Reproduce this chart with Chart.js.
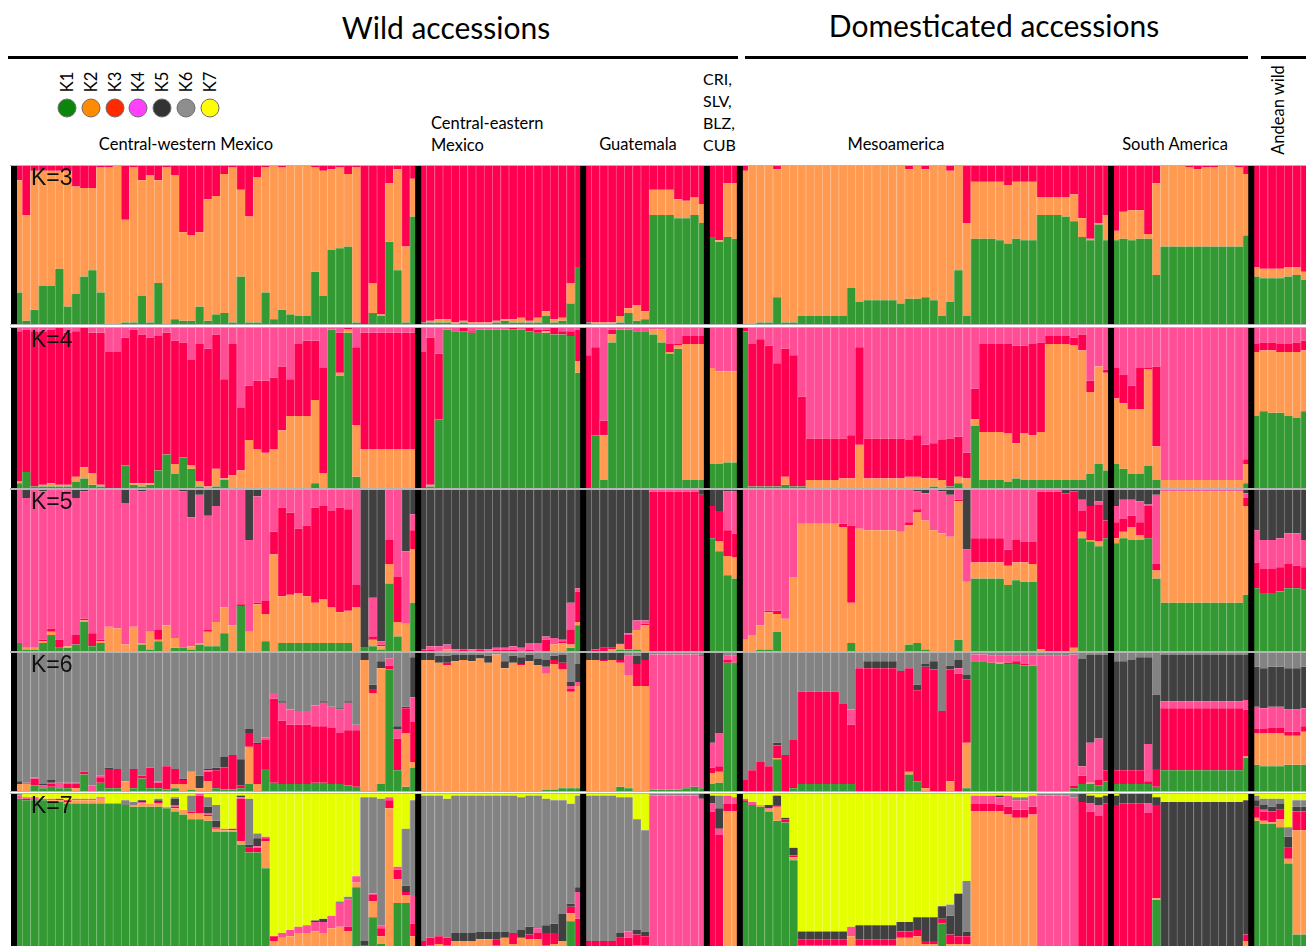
<!DOCTYPE html>
<html>
<head>
<meta charset="utf-8">
<script src="https://cdn.jsdelivr.net/npm/chart.js@4.4.0/dist/chart.umd.min.js"></script>
<style>
  body { margin: 0; width: 1306px; height: 946px; overflow: hidden; background: #fff; position: relative; font-family: Lato, 'Open Sans', sans-serif; }
  .t { position: absolute; white-space: nowrap; color: #000; line-height: 1; }
  .c { transform: translate(-50%, -50%); }
  .rot { transform: translate(-50%, -50%) rotate(-90deg); }
  .rule { position: absolute; height: 3px; background: #000; }
  .edge { position: absolute; height: 1px; left: 10px; width: 1296px; background: #b5b5b5; z-index: 2; }
  .dot { position: absolute; width: 17px; height: 17px; border-radius: 50%; border: 1px solid #6e6e6e; transform: translate(-50%, -50%); }
  .klab { position: absolute; font-family: 'Liberation Sans', Arial, sans-serif; font-size: 23px; color: #111; line-height: 1; z-index: 3; }
  canvas { position: absolute; left: 0; }
</style>
</head>
<body>

<div class="t c" style="left:446px; top:27px; font-size:30px;">Wild accessions</div>
<div class="t c" style="left:994px; top:25px; font-size:30px;">Domesticated accessions</div>
<div class="rule" style="left:8px; top:56px; width:730px;"></div>
<div class="rule" style="left:745px; top:56px; width:503px;"></div>
<div class="rule" style="left:1261px; top:56px; width:45px;"></div>

<div id="legend"></div>

<div class="t c" style="left:186px; top:144px; font-size:16.5px;">Central-western Mexico</div>
<div class="t" style="left:431px; top:115px; font-size:16.5px;">Central-eastern</div>
<div class="t" style="left:431px; top:137px; font-size:16.5px;">Mexico</div>
<div class="t c" style="left:638px; top:144px; font-size:16.5px;">Guatemala</div>
<div class="t" style="left:703px; top:71px; font-size:16px;">CRI,</div>
<div class="t" style="left:703px; top:93px; font-size:16px;">SLV,</div>
<div class="t" style="left:703px; top:115px; font-size:16px;">BLZ,</div>
<div class="t" style="left:703px; top:137px; font-size:16px;">CUB</div>
<div class="t c" style="left:896px; top:144px; font-size:16.5px;">Mesoamerica</div>
<div class="t c" style="left:1175px; top:144px; font-size:16.5px;">South America</div>
<div class="t rot" style="left:1278px; top:110px; font-size:16.5px;">Andean wild</div>

<div id="panels"></div>

<script>
// STRUCTURE ancestry proportions, one row per accession, columns K1..Kn
const clusterNames = ['K1', 'K2', 'K3', 'K4', 'K5', 'K6', 'K7'];
const legendColors = ['#0b850b', '#ff8c00', '#ff2a00', '#ff40ff', '#333333', '#8e8e8e', '#ffff00'];
const barColors = ['#339933', '#ff9a50', '#ff0050', '#ff4d96', '#404040', '#838383', '#e5ff00'];

const groupNames = ['Central-western Mexico', 'Central-eastern Mexico', 'Guatemala', 'CRI, SLV, BLZ, CUB', 'Mesoamerica', 'South America', 'Andean wild'];
const groupSizes = [49, 20, 15, 4, 45, 17, 7];

const qK3 = [
  // Central-western Mexico
  [.20,.71,.09],[.02,.67,.31],[.09,.88,.03],[.24,.73,.03],[.24,.73,.03],[.35,.62,.03],[.11,.86,.03],[.19,.68,.13],[.30,.56,.14],[.34,.52,.14],
  [.20,.79,.01],[0,.99,.01],[0,1,0],[.01,.65,.34],[.01,.98,.01],[.18,.73,.09],[.01,.93,.06],[.26,.65,.09],[0,.99,.01],[.03,.91,.06],
  [.02,.56,.42],[.02,.54,.44],[.11,.47,.42],[.02,.77,.21],[.06,.75,.19],[.07,.88,.05],[.01,.98,.01],[.30,.55,.15],[.01,.67,.32],[.01,.92,.07],
  [.20,.79,.01],[.03,.97,0],[.09,.90,.01],[.06,.94,0],[.05,.95,0],[.05,.95,0],[.33,.66,.01],[.18,.79,.03],[.47,.51,.02],[.48,.51,.01],
  [.49,.46,.05],[.01,.98,.01],[0,0,1],[.07,.19,.74],[.05,.01,.94],[.52,.37,.11],[.34,.64,.02],[.01,.48,.51],[.68,.24,.08],
  // Central-eastern Mexico
  [.01,0,.99],[.01,.01,.98],[.01,.02,.97],[.01,.02,.97],[0,.01,.99],[.01,.01,.98],[0,.01,.99],[0,.01,.99],[0,.01,.99],[.01,.01,.98],
  [.02,.01,.97],[.01,.02,.97],[.01,.03,.96],[.01,.01,.98],[.01,.03,.96],[.05,.03,.92],[.01,.02,.97],[.02,.02,.96],[.13,.13,.74],[.36,0,.64],
  // Guatemala
  [.01,0,.99],[0,.01,.99],[0,.01,.99],[0,.01,.99],[.01,.04,.95],[.07,.03,.90],[.02,.10,.88],[.03,.05,.92],[.69,.16,.15],[.69,.16,.15],
  [.69,.16,.15],[.67,.12,.21],[.67,.11,.22],[.69,.11,.20],[.64,.12,.24],
  // CRI, SLV, BLZ, CUB
  [.55,0,.45],[.52,.01,.47],[.55,.34,.11],[.54,.35,.11],
  // Mesoamerica (domesticated)
  [0,.97,.03],[0,1,0],[.01,.99,0],[.01,.99,0],[.17,.81,.02],[.01,.99,0],[.01,.99,0],[.05,.95,0],[.05,.95,0],[.05,.95,0],
  [.05,.95,0],[.05,.95,0],[.05,.95,0],[.23,.77,0],[.14,.86,0],[.15,.85,0],[.15,.85,0],[.15,.85,0],[.15,.85,0],[.13,.87,0],
  [.16,.82,.02],[.16,.84,0],[.17,.81,.02],[.15,.85,0],[.05,.95,0],[.14,.83,.03],[.34,.66,0],[.05,.59,.36],[.54,.36,.10],[.54,.36,.10],
  [.54,.36,.10],[.53,.37,.10],[.51,.37,.12],[.54,.36,.10],[.53,.37,.10],[.53,.37,.10],[.69,.11,.20],[.69,.11,.20],[.69,.11,.20],[.68,.12,.20],
  [.65,.17,.18],[.55,.12,.33],[.53,.01,.46],[.63,.01,.36],[.53,.16,.31],
  // South America
  [.53,.06,.41],[.54,.17,.29],[.53,.19,.28],[.54,.18,.28],[.54,.03,.43],[.31,.58,.11],[.49,.51,0],[.49,.51,0],[.49,.51,0],[.49,.50,.01],
  [.49,.49,.02],[.49,.50,.01],[.49,.50,.01],[.49,.51,0],[.49,.51,0],[.49,.50,.01],[.56,.39,.05],
  // Andean wild
  [.30,.06,.64],[.29,.06,.65],[.29,.06,.65],[.29,.06,.65],[.30,.06,.64],[.31,.05,.64],[.28,.05,.67]
];

const qK4 = [
  // Central-western Mexico
  [.03,.01,.94,.02],[.10,0,.89,.01],[.01,0,.97,.02],[.01,.01,.96,.02],[.01,.02,.96,.01],[.01,.01,.98,0],[.01,.01,.95,.03],[.04,.03,.91,.02],[.06,.07,.87,0],[.02,.07,.88,.03],
  [.01,.01,.95,.03],[0,0,.85,.15],[0,0,.85,.15],[.14,0,.80,.06],[.02,.01,.96,.01],[.01,.02,.93,.04],[.02,.01,.91,.06],[.11,0,.84,.05],[.21,0,.76,.03],[.09,.06,.77,.08],
  [.19,0,.72,.09],[.12,.02,.66,.20],[.01,.03,.86,.10],[0,.01,.86,.13],[.01,.11,.84,.04],[.05,.01,.62,.32],[0,.08,.82,.10],[0,.11,.39,.50],[0,.30,.34,.36],[0,.24,.43,.33],
  [0,.22,.45,.33],[0,.24,.45,.31],[0,.36,.40,.24],[0,.45,.23,.32],[0,.45,.45,.10],[0,.45,.47,.08],[.03,.52,.37,.08],[0,.09,.66,.25],[.99,0,0,.01],[.70,.02,.25,.03],
  [.97,.02,.01,0],[.07,.32,.49,.12],[0,.24,.73,.03],[0,.24,.73,.03],[0,.24,.73,.03],[0,.24,.73,.03],[0,.24,.73,.03],[0,.24,.73,.03],[0,.24,.73,.03],
  // Central-eastern Mexico
  [0,0,.85,.15],[.01,.01,.92,.06],[.43,0,.41,.16],[.99,0,0,.01],[.98,0,0,.02],[.98,0,.02,0],[.97,0,.01,.02],[.99,0,0,.01],[.99,0,0,.01],[.99,0,0,.01],
  [.99,0,0,.01],[.99,0,.01,0],[.99,0,0,.01],[.98,0,.02,0],[.97,0,.02,.01],[.97,.01,.01,.01],[.96,0,.04,0],[.96,0,.02,.02],[.95,0,.03,.02],[.72,.07,.20,.01],
  // Guatemala
  [0,0,.83,.17],[.33,0,.55,.12],[.05,.28,.09,.58],[.91,.05,.03,.01],[.99,0,0,.01],[.99,0,0,.01],[.98,0,0,.02],[.98,0,0,.02],[.96,.03,0,.01],[.91,.08,0,.01],
  [.84,.01,.05,.10],[.87,.02,.01,.10],[.05,.85,.05,.05],[.05,.85,.05,.05],[.05,.85,.05,.05],
  // CRI, SLV, BLZ, CUB
  [.15,.60,0,.25],[.15,.58,0,.27],[.16,.57,0,.27],[.16,.57,0,.27],
  // Mesoamerica (domesticated)
  [.98,0,.02,0],[.01,0,.89,.10],[.01,0,.92,.07],[.01,0,.88,.11],[.01,0,.77,.22],[.02,.05,.80,.13],[.01,0,.82,.17],[.01,0,.56,.43],[0,.05,.26,.69],[0,.05,.26,.69],
  [0,.05,.26,.69],[0,.05,.26,.69],[0,.06,.25,.69],[0,.06,.27,.67],[0,.27,.61,.12],[0,.06,.25,.69],[0,.06,.25,.69],[0,.06,.25,.69],[0,.06,.25,.69],[0,.06,.25,.69],
  [0,.07,.23,.70],[0,.07,.26,.67],[0,.06,.21,.73],[.01,.05,.22,.72],[0,.05,.25,.70],[.01,0,.30,.69],[.03,.04,.25,.68],[0,.06,.16,.78],[.39,.04,.19,.38],[.05,.30,.55,.10],
  [.05,.30,.55,.10],[.05,.30,.55,.10],[.04,.30,.56,.10],[.06,.22,.61,.11],[.05,.29,.55,.11],[.05,.28,.57,.10],[.05,.30,.56,.09],[.05,.85,.05,.05],[.05,.85,.05,.05],[.05,.85,.05,.05],
  [.05,.84,.05,.06],[.05,.81,.10,.04],[.09,.51,.07,.33],[.15,.61,0,.24],[.11,.61,.02,.26],
  // South America
  [.15,.41,.19,.25],[.12,.41,.18,.29],[.09,.40,.15,.36],[.09,.40,.26,.25],[.14,.60,.01,.25],[.05,.21,.50,.24],[0,.05,0,.95],[0,.05,0,.95],[0,.05,0,.95],[0,.05,0,.95],
  [0,.05,0,.95],[0,.05,0,.95],[0,.05,0,.95],[0,.05,0,.95],[0,.05,0,.95],[0,.05,0,.95],[.03,.12,.03,.82],
  // Andean wild
  [.45,.40,.05,.10],[.48,.38,.05,.09],[.47,.39,.05,.09],[.47,.38,.05,.10],[.45,.40,.05,.10],[.44,.41,.06,.09],[.48,.38,.06,.08]
];

const qK5 = [
  // Central-western Mexico
  [.05,0,0,.95,0],[.01,.01,0,.93,.05],[.01,.01,0,.98,0],[.05,.01,.01,.92,.01],[.10,.02,.02,.86,0],[.02,0,.05,.93,0],[.02,.01,0,.97,0],[.04,0,.06,.85,.05],[.18,.01,.01,.79,.01],[.03,0,.08,.89,0],
  [.05,.01,.01,.93,0],[0,.15,0,.85,0],[0,.14,0,.86,0],[0,.04,0,.88,.08],[0,.15,0,.85,0],[.04,.01,0,.94,.01],[.01,.11,0,.88,0],[.06,.01,.06,.87,0],[0,.16,0,.84,0],[.02,.06,0,.92,0],
  [.02,0,0,.97,.01],[.01,.02,0,.80,.17],[.04,.01,0,.92,.03],[.03,.09,.01,.71,.16],[.03,.15,0,.72,.10],[.11,.16,0,.73,0],[0,.16,0,.84,0],[.28,0,.01,.71,0],[0,.12,0,.57,.31],[0,.29,.01,.66,.04],
  [.06,.17,.08,.69,0],[0,.60,.14,.26,0],[.05,.29,.55,.11,0],[.05,.30,.51,.14,0],[.05,.31,.40,.24,0],[.05,.29,.44,.22,0],[.05,.25,.59,.11,0],[.05,.27,.58,.10,0],[.05,.22,.60,.13,0],[.05,.19,.65,.11,0],
  [.05,.20,.63,.12,0],[0,.27,.14,.59,0],[.02,0,0,0,.98],[.03,.04,.02,.24,.67],[.01,.02,.01,.02,.94],[.42,.12,.15,.31,0],[.09,.09,.28,.54,0],[0,.17,0,.45,.38],[.30,.33,.12,.10,.15],
  // Central-eastern Mexico
  [0,0,.01,0,.99],[0,0,.01,.02,.97],[0,0,0,.03,.97],[0,.01,0,.03,.96],[0,0,0,.01,.99],[0,0,.01,0,.99],[0,0,0,.01,.99],[0,0,.01,0,.99],[0,0,0,.01,.99],[0,0,.01,.01,.98],
  [0,0,.01,.01,.98],[0,0,.01,.02,.97],[0,0,0,.02,.98],[0,0,.01,.04,.95],[0,0,0,.05,.95],[0,0,.07,.02,.91],[0,.04,0,.04,.92],[0,.05,.01,.01,.93],[.02,.02,.09,.17,.70],[.16,.02,.19,.02,.61],
  // Guatemala
  [0,0,0,0,1],[0,0,.01,0,.99],[0,0,.02,0,.98],[0,.01,.01,0,.98],[.01,.03,.01,0,.95],[.01,0,.09,.01,.89],[.01,.12,0,.06,.81],[0,.16,.01,.02,.81],[0,0,.99,.01,0],[0,0,.99,.01,0],
  [0,0,.99,.01,0],[0,0,.99,.01,0],[0,0,.99,.01,0],[0,0,.99,.01,0],[0,0,.97,0,.03],
  // CRI, SLV, BLZ, CUB
  [.70,0,.20,0,.10],[.62,.06,.19,0,.13],[.47,.12,.16,.24,.01],[.45,.13,.15,.26,.01],
  // Mesoamerica (domesticated)
  [0,.07,0,.93,0],[0,.10,0,.90,0],[.01,.15,0,.84,0],[.01,.23,.01,.75,0],[.12,.11,.02,.75,0],[0,.20,0,.80,0],[0,.46,0,.54,0],[0,.79,0,.21,0],[0,.79,0,.21,0],[0,.79,0,.21,0],
  [0,.79,0,.21,0],[0,.79,0,.21,0],[0,.77,.02,.21,0],[.05,.25,.48,.22,0],[0,.76,0,.24,0],[0,.75,0,.25,0],[0,.75,0,.25,0],[0,.75,0,.25,0],[0,.75,0,.25,0],[0,.74,0,.26,0],
  [.04,.74,.02,.20,0],[.05,.81,.02,.11,.01],[.01,.80,0,.17,.02],[0,.75,0,.25,0],[0,.73,0,.26,.01],[0,.71,0,.26,.03],[.07,.86,.01,.06,0],[0,.43,0,.20,.37],[.45,.10,.15,.30,0],[.45,.10,.15,.30,0],
  [.45,.10,.15,.30,0],[.45,.10,.15,.30,0],[.41,.12,.10,.37,0],[.44,.11,.14,.31,0],[.43,.12,.13,.32,0],[.43,.11,.14,.32,0],[0,.01,.98,.01,0],[0,0,.99,.01,0],[0,0,.99,.01,0],[0,0,.98,0,.02],
  [0,.02,.97,0,.01],[.70,.04,.13,.07,.06],[.68,.01,.21,0,.10],[.65,.03,.23,.02,.07],[.70,0,.11,0,.19],
  // South America
  [.67,.03,.10,.10,.10],[.70,.04,.08,.12,.06],[.69,.08,.07,.10,.06],[.69,.03,.08,.13,.07],[.70,0,.20,.01,.09],[.45,.05,.04,.43,.03],[.30,.69,0,.01,0],[.30,.69,0,.01,0],[.30,.69,0,.01,0],[.30,.69,0,.01,0],
  [.30,.69,0,.01,0],[.30,.69,0,.01,0],[.30,.69,0,.01,0],[.30,.69,0,.01,0],[.30,.69,0,.01,0],[.30,.69,0,.01,0],[.35,.55,.05,.03,.02],
  // Andean wild
  [.39,0,.16,.20,.25],[.36,0,.15,.18,.31],[.36,0,.15,.18,.31],[.37,0,.15,.18,.30],[.39,0,.15,.19,.27],[.39,0,.14,.20,.27],[.38,0,.14,.17,.31]
];

const qK6 = [
  // Central-western Mexico
  [0,.05,0,0,.02,.93],[0,.05,0,.01,0,.94],[.04,0,.05,.01,0,.90],[.02,0,0,.02,.01,.95],[.03,0,.02,.01,.02,.92],[.02,0,0,.04,0,.94],[.02,0,.03,.01,0,.94],[0,.02,.03,.01,0,.94],[.12,0,.02,0,0,.86],[0,0,0,.04,0,.96],
  [.06,0,.04,.01,0,.89],[.02,0,.14,0,.01,.83],[.02,0,.14,0,0,.84],[0,.07,0,0,0,.93],[.02,0,.14,0,0,.84],[.09,0,.02,0,0,.89],[.02,0,.15,0,0,.83],[.02,0,.04,.01,0,.93],[.01,0,.17,0,0,.82],[.02,.03,.11,0,0,.84],
  [0,.05,.03,0,.01,.91],[.01,.13,0,0,0,.86],[0,.02,0,0,.09,.89],[0,.07,.07,.01,.01,.84],[.02,0,.13,0,.02,.83],[.01,0,.16,0,.08,.75],[.01,0,.25,0,0,.74],[.02,0,.02,0,.19,.77],[.05,.27,.10,0,.03,.55],[0,.05,.29,0,.01,.65],
  [.16,0,.21,.02,0,.61],[.06,0,.61,.04,0,.29],[.05,0,.46,.13,.01,.35],[.05,0,.43,.11,0,.41],[.05,0,.43,.10,0,.42],[.05,0,.43,.10,0,.42],[.06,0,.41,.15,0,.38],[.06,0,.41,.17,.01,.35],[.05,0,.41,.15,0,.39],[.05,0,.37,.17,.01,.40],
  [.04,0,.40,.20,.01,.35],[.03,0,.41,.04,0,.52],[0,.95,0,0,.05,0],[0,.71,.03,0,.03,.23],[.05,.84,0,0,.05,.06],[.88,0,.03,.05,0,.04],[.15,0,.23,.07,.02,.53],[.03,.39,.18,0,.01,.39],[.17,.04,.29,.18,.29,.03],
  // Central-eastern Mexico
  [0,.95,0,0,.05,0],[0,.95,0,0,.05,0],[0,.93,0,0,.05,.02],[0,.91,.02,0,.05,.02],[0,.94,0,0,.05,.01],[0,.95,0,0,.04,.01],[0,.94,0,0,.05,.01],[0,.96,0,0,.03,.01],[0,.93,0,0,.05,.02],[0,.99,0,0,0,.01],
  [0,.89,0,0,.05,.06],[0,.93,0,0,.05,.02],[0,.91,.01,0,.05,.03],[0,.94,0,0,.05,.01],[0,.91,0,0,.05,.04],[.01,.84,0,.05,.05,.05],[.01,.91,.03,0,.03,.02],[.02,.86,.05,0,.06,.01],[.02,.70,.02,.02,.03,.21],[.02,.74,0,.03,.13,.08],
  // Guatemala
  [0,.95,0,0,.05,0],[0,.95,0,0,.05,0],[0,.94,.01,0,.05,0],[0,.95,0,0,.05,0],[.03,.90,.02,0,.05,0],[.02,.82,0,.14,0,.02],[0,.76,.16,0,.06,.02],[0,.76,.19,0,.05,0],[.01,0,0,.98,0,.01],[.01,0,0,.98,0,.01],
  [.01,0,0,.98,0,.01],[.01,0,0,.98,0,.01],[.02,0,0,.97,0,.01],[.03,0,0,.96,0,.01],[.02,0,0,.96,.01,.01],
  // CRI, SLV, BLZ, CUB
  [.05,.08,.04,.18,.65,0],[.06,.08,.04,.24,.58,0],[.93,0,.02,.03,0,.02],[.93,0,0,.05,0,.02],
  // Mesoamerica (domesticated)
  [0,0,.08,0,0,.92],[0,0,.15,0,0,.85],[0,0,.21,0,0,.79],[0,0,.18,0,0,.82],[.23,.01,.09,0,.02,.65],[0,0,.26,0,0,.74],[.02,0,.35,0,0,.63],[.05,0,.67,0,0,.28],[.05,0,.67,0,0,.28],[.05,0,.67,0,0,.28],
  [.05,0,.67,0,0,.28],[.05,0,.67,0,0,.28],[.05,0,.58,0,0,.37],[.05,0,.43,.11,0,.41],[0,0,.89,0,0,.11],[0,0,.89,0,.05,.06],[0,0,.89,0,.05,.06],[0,0,.89,0,.05,.06],[0,0,.89,0,.05,.06],[0,0,.87,0,0,.13],
  [.12,.02,.75,0,0,.11],[.07,0,.66,0,.04,.23],[0,.02,.88,0,.02,.08],[0,0,.88,0,.06,.06],[0,0,.58,0,0,.42],[0,.07,.81,0,.03,.09],[0,0,.85,.04,.06,.05],[.02,.33,.46,0,.03,.16],[.94,0,0,.05,0,.01],[.94,0,0,.05,0,.01],
  [.93,0,0,.05,0,.02],[.92,.01,0,.05,0,.02],[.92,0,.01,.05,0,.02],[.92,0,.02,.04,0,.02],[.91,0,.01,.06,0,.02],[.91,0,0,.07,0,.02],[0,0,0,.98,0,.02],[0,0,0,.98,0,.02],[0,0,0,.98,0,.02],[0,0,0,.98,0,.02],
  [.02,0,.02,.95,0,.01],[.05,0,.06,.07,.78,.04],[.05,.01,0,.29,.64,.01],[.04,0,.04,.30,.61,.01],[.07,0,.08,0,.84,.01],
  // South America
  [.05,0,.10,0,.79,.06],[.05,0,.10,0,.79,.06],[.05,0,.10,0,.80,.05],[.05,0,.10,0,.82,.03],[.05,0,.02,.27,.63,.03],[.03,0,.13,0,.54,.30],[.15,0,.45,.05,.34,.01],[.15,0,.45,.05,.34,.01],[.15,0,.45,.05,.34,.01],[.15,0,.45,.05,.34,.01],
  [.15,0,.45,.05,.34,.01],[.15,0,.45,.05,.34,.01],[.15,0,.45,.05,.34,.01],[.15,0,.45,.05,.34,.01],[.15,0,.45,.05,.34,.01],[.15,0,.45,.05,.34,.01],[.24,.01,.34,.07,.33,.01],
  // Andean wild
  [.19,.23,.03,.16,.29,.10],[.18,.24,.03,.15,.29,.11],[.18,.24,.04,.15,.29,.10],[.18,.24,.04,.15,.29,.10],[.19,.21,.03,.16,.30,.11],[.19,.21,.03,.16,.30,.11],[.19,.24,.04,.13,.30,.10]
];

const qK7 = [
  // Central-western Mexico
  [.97,0,0,.02,0,.01,0],[.96,0,.01,.01,0,0,.02],[.96,0,0,.02,0,0,.02],[.96,0,0,.01,0,0,.03],[.95,.01,0,.01,0,0,.03],[.95,.01,.01,0,0,0,.03],[.94,.01,.01,0,0,0,.04],[.94,.02,0,.01,0,0,.03],[.94,.02,0,.01,0,0,.03],[.94,.02,0,.01,0,0,.03],
  [.94,.03,0,.01,0,0,.02],[.94,0,0,0,0,0,.06],[.94,0,0,0,0,0,.06],[.93,0,0,0,0,.03,.04],[.92,.01,0,0,0,.02,.05],[.92,.02,0,.01,.01,0,.04],[.92,.02,0,0,0,0,.06],[.92,.02,.01,0,.01,.01,.03],[.91,.01,0,0,0,0,.08],[.89,.02,.01,.01,.04,.01,.02],
  [.87,.03,0,0,0,0,.10],[.84,.04,.01,0,0,.10,.01],[.84,.04,.11,.01,0,0,0],[.83,.03,.01,.01,.04,.06,.02],[.76,.02,.01,0,.04,.10,.07],[.76,.01,0,.01,0,0,.22],[.76,.01,.01,0,0,0,.22],[.68,.02,.27,.01,.01,0,.01],[.63,0,.03,0,.02,.29,.03],[.63,0,.03,.01,.05,.03,.25],
  [.53,.17,.02,.01,0,0,.27],[0,.07,.03,0,0,0,.90],[0,.09,0,.03,0,0,.88],[0,.10,0,.04,0,0,.86],[0,.12,0,.04,0,0,.84],[0,.12,0,.05,0,0,.83],[0,.13,0,.06,.01,0,.80],[0,.12,0,.07,.02,0,.79],[0,.15,0,.08,0,0,.77],[0,.16,0,.15,0,.01,.68],
  [0,.13,.03,.17,0,.02,.65],[.41,.03,0,.04,0,0,.52],[0,0,.04,0,.03,.91,.02],[.22,.10,.04,.01,0,.61,.02],[.05,.05,.05,.02,0,.80,.03],[0,.91,.05,.02,0,0,.02],[.31,.15,.06,.02,0,0,.46],[.31,.05,.02,0,.04,.36,.22],[0,.10,.08,.18,0,.60,.04],
  // Central-eastern Mexico
  [0,0,.07,0,0,.92,.01],[0,.04,.05,0,0,.90,.01],[0,.05,.05,0,0,.89,.01],[0,.04,.05,0,0,.88,.03],[0,.07,0,0,.05,.87,.01],[0,.07,0,0,.05,.87,.01],[0,.07,0,0,.05,.87,.01],[0,.08,0,0,.05,.86,.01],[0,.08,0,0,.05,.86,.01],[0,.04,.04,0,.05,.86,.01],
  [0,.09,0,0,.04,.86,.01],[0,.05,.07,0,0,.87,.01],[0,.09,0,0,.05,.84,.02],[0,.08,.03,0,.05,.83,.01],[0,.08,.04,.03,0,.84,.01],[0,.04,.08,0,.05,.80,.03],[0,.05,.07,0,.06,.78,.04],[0,.07,0,0,.17,.72,.04],[.19,.05,.04,0,.02,.62,.06],[0,0,.21,.17,.03,.58,.01],
  // Guatemala
  [0,0,.07,0,0,.92,.01],[0,0,.07,0,0,.92,.01],[0,0,.07,0,0,.92,.01],[0,0,.07,0,0,.92,.01],[0,0,.09,0,.03,.86,.02],[0,0,.09,.04,0,.85,.02],[0,.04,.07,0,.03,.70,.16],[0,.04,.06,0,.03,.64,.23],[0,0,0,.99,0,.01,0],[0,0,0,.99,0,.01,0],
  [0,0,0,.99,0,.01,0],[0,0,0,.99,0,.01,0],[0,0,0,.99,0,.01,0],[0,0,0,.99,0,.01,0],[0,0,0,.97,.03,0,0],
  // CRI, SLV, BLZ, CUB
  [0,0,.89,.05,.05,0,.01],[0,0,.74,.04,.13,.08,.01],[0,.89,.05,.05,0,0,.01],[0,.89,.05,.04,0,0,.02],
  // Mesoamerica (domesticated)
  [.95,0,.01,.01,0,0,.03],[.93,0,0,.02,0,0,.05],[.92,.01,0,0,0,0,.07],[.89,.01,0,.01,.02,0,.07],[.83,.09,.01,0,.06,0,.01],[.82,0,.02,0,.01,0,.15],[.58,.02,.01,0,.05,0,.34],[0,.04,.04,0,.05,0,.87],[0,.04,.04,0,.05,0,.87],[0,.04,.04,0,.05,0,.87],
  [0,.04,.04,0,.05,0,.87],[0,.04,.04,0,.05,0,.87],[0,.04,.04,0,.05,0,.87],[0,.10,0,.06,0,0,.84],[0,.04,.04,0,.09,0,.83],[0,.04,.04,0,.09,0,.83],[0,.04,.04,0,.09,0,.83],[0,.04,.04,0,.09,0,.83],[0,.04,.04,0,.09,0,.83],[0,.09,.04,0,.06,0,.81],
  [0,.09,.04,0,.06,0,.81],[0,.10,.04,0,.08,0,.78],[0,.05,.02,0,.15,0,.78],[0,.05,.02,0,.15,0,.78],[.18,0,.03,0,.08,0,.71],[0,.05,.06,0,.12,.07,.70],[0,.05,.05,0,.27,0,.63],[0,.05,.05,0,.03,.32,.55],[.03,.86,.05,.05,0,0,.01],[.03,.86,.05,.05,0,0,.01],
  [.03,.86,.05,.05,0,0,.01],[.03,.86,.04,.05,.01,0,.01],[.03,.84,.05,.07,0,0,.01],[.03,.82,.05,.06,0,.02,.02],[.03,.82,.05,.06,0,.02,.02],[.03,.84,.05,.07,0,0,.01],[0,0,0,.99,0,.01,0],[0,0,0,.99,0,.01,0],[0,0,0,.99,0,.01,0],[0,0,0,.99,0,.01,0],
  [0,0,0,.98,0,.02,0],[0,0,.95,0,.05,0,0],[0,0,.89,.05,.05,0,.01],[0,0,.86,.07,.05,0,.02],[0,0,.94,0,.05,0,.01],
  // South America
  [0,0,.93,0,.06,0,.01],[0,0,.94,0,.06,0,0],[0,0,.94,0,.06,0,0],[0,0,.94,0,.06,0,0],[0,0,.88,.06,.06,0,0],[.33,.01,.59,0,.05,0,.02],[0,0,0,0,.95,0,.05],[0,0,0,0,.95,0,.05],[0,0,0,0,.95,0,.05],[0,0,0,0,.95,0,.05],
  [0,0,0,0,.95,0,.05],[0,0,0,0,.95,0,.05],[0,0,0,0,.95,0,.05],[0,0,0,0,.95,0,.05],[0,0,0,0,.95,0,.05],[0,0,0,0,.95,0,.05],[0,.07,.04,0,.85,0,.04],
  // Andean wild
  [.83,.02,.07,0,.04,.03,.01],[.81,.02,.06,.01,.03,.04,.03],[.81,.01,.07,0,.03,.05,.03],[.79,.05,.06,0,.04,.03,.03],[.56,.03,.07,0,.07,.06,.21],[.11,.66,.12,0,.03,.04,.04],[.11,.66,.12,0,.03,.04,.04]
];

const panels = [
  { label: 'K=3', rows: qK3, k: 3, top: 166, height: 158 },
  { label: 'K=4', rows: qK4, k: 4, top: 328, height: 160 },
  { label: 'K=5', rows: qK5, k: 5, top: 490, height: 161 },
  { label: 'K=6', rows: qK6, k: 6, top: 653, height: 138 },
  { label: 'K=7', rows: qK7, k: 7, top: 794, height: 158 }
];

// first accession index of each population block
const groupStarts = [];
groupSizes.reduce((acc, n) => { groupStarts.push(acc); return acc + n; }, 0);

const accessionLabels = [];
groupNames.forEach((g, gi) => {
  for (let i = 0; i < groupSizes[gi]; i++) accessionLabels.push(g + ' ' + (i + 1));
});

function tint(hex, amt) {
  const n = parseInt(hex.slice(1), 16);
  const mix = c => Math.round(c + (255 - c) * amt);
  return `rgb(${mix(n >> 16)}, ${mix((n >> 8) & 255)}, ${mix(n & 255)})`;
}

// thick black bars between population blocks
const separators = {
  id: 'separators',
  afterDatasetsDraw(chart) {
    const xs = chart.scales.x;
    const area = chart.chartArea;
    const step = xs.getPixelForValue(1) - xs.getPixelForValue(0);
    const ctx = chart.ctx;
    ctx.save();
    ctx.fillStyle = '#000';
    groupStarts.forEach(i => {
      const x = xs.getPixelForValue(i) - step / 2;
      ctx.fillRect(x - 3, area.top, 6, area.bottom - area.top);
    });
    ctx.restore();
  }
};

// legend dots and rotated cluster names
const legendBox = document.getElementById('legend');
clusterNames.forEach((name, i) => {
  const x = 67 + i * 23.8;
  const lab = document.createElement('div');
  lab.className = 't rot';
  lab.style.cssText = `left:${x}px; top:82px; font-size:16.5px;`;
  lab.textContent = name;
  legendBox.appendChild(lab);
  const dot = document.createElement('div');
  dot.className = 'dot';
  dot.style.cssText = `left:${x}px; top:108px; background:${legendColors[i]};`;
  legendBox.appendChild(dot);
});

const holder = document.getElementById('panels');
panels.forEach(p => {
  if (p.rows.length !== accessionLabels.length) console.warn(p.label, p.rows.length);

  const canvas = document.createElement('canvas');
  canvas.width = 1310;
  canvas.height = p.height;
  canvas.style.top = p.top + 'px';
  holder.appendChild(canvas);

  ['top', 'bottom'].forEach(side => {
    const e = document.createElement('div');
    e.className = 'edge';
    e.style.top = (side === 'top' ? p.top - 1 : p.top + p.height) + 'px';
    holder.appendChild(e);
  });

  const lab = document.createElement('div');
  lab.className = 'klab';
  lab.style.left = '31px';
  lab.style.top = p.top + 'px';
  lab.textContent = p.label;
  holder.appendChild(lab);

  const totals = p.rows.map(r => r.reduce((a, b) => a + b, 0));
  const datasets = [];
  for (let k = 0; k < p.k; k++) {
    datasets.push({
      label: clusterNames[k],
      data: p.rows.map((r, i) => (r[k] || 0) / totals[i]),
      backgroundColor: barColors[k],
      borderColor: tint(barColors[k], 0.3),
      borderWidth: { top: 0, right: 0, bottom: 0, left: 1 },
      borderSkipped: false,
      barPercentage: 1,
      categoryPercentage: 1,
      inflateAmount: 0.4
    });
  }

  new Chart(canvas, {
    type: 'bar',
    data: { labels: accessionLabels, datasets: datasets },
    options: {
      responsive: false,
      animation: false,
      events: [],
      layout: { padding: { left: 14, right: 1, top: 0, bottom: 0 } },
      plugins: { legend: { display: false }, tooltip: { enabled: false } },
      scales: {
        x: { stacked: true, display: false },
        y: { stacked: true, display: false, min: 0, max: 1 }
      }
    },
    plugins: [separators]
  });
});
</script>
</body>
</html>
